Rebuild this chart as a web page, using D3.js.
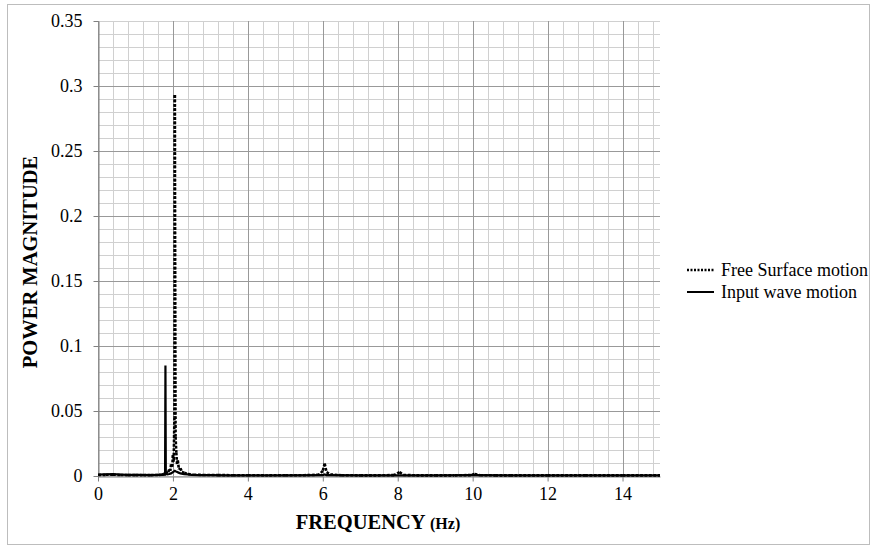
<!DOCTYPE html>
<html>
<head>
<meta charset="utf-8">
<script src="https://cdn.jsdelivr.net/npm/d3@7"></script>
<style>
  html, body { margin: 0; padding: 0; background: #fff; }
  svg { display: block; }
  svg text { font-family: "Liberation Serif", "Times New Roman", serif; }
</style>
</head>
<body>
<svg id="chart" width="875" height="549"></svg>
<script>
// Free surface motion spectrum (frequency in Hz, power magnitude)
const freeFreq = [0, 0.2, 0.4, 0.6, 0.8, 1.0, 1.2, 1.4, 1.6, 1.7, 1.76, 1.81, 1.86, 1.9, 1.93, 1.95, 1.98, 2.0, 2.02, 2.04, 2.05, 2.07, 2.09, 2.11, 2.13, 2.16, 2.2, 2.24, 2.3, 2.4, 2.55, 2.8, 3.2, 3.6, 4.0, 4.5, 5.0, 5.5, 5.9, 6.0, 6.05, 6.1, 6.2, 6.5, 7.0, 7.5, 7.9, 8.05, 8.15, 8.5, 9.0, 9.5, 9.95, 10.05, 10.2, 10.6, 11, 12, 13, 14, 15];
const freePower = [0.0008, 0.0009, 0.0010, 0.0008, 0.0007, 0.0007, 0.0006, 0.0007, 0.0008, 0.0010, 0.0015, 0.0030, 0.0020, 0.0050, 0.0040, 0.0090, 0.0060, 0.0160, 0.0110, 0.0450, 0.2930, 0.0300, 0.0180, 0.0090, 0.0120, 0.0050, 0.0060, 0.0030, 0.0025, 0.0015, 0.0010, 0.0008, 0.0007, 0.0006, 0.0006, 0.0005, 0.0006, 0.0006, 0.0010, 0.0040, 0.0095, 0.0030, 0.0012, 0.0006, 0.0005, 0.0005, 0.0007, 0.0030, 0.0008, 0.0005, 0.0005, 0.0005, 0.0007, 0.0015, 0.0006, 0.0005, 0.0005, 0.0005, 0.0005, 0.0005, 0.0005];

// Input wave motion spectrum
const inputFreq = [0, 0.2, 0.4, 0.6, 0.8, 1.0, 1.2, 1.4, 1.6, 1.7, 1.79, 1.80, 1.81, 1.85, 1.9, 1.95, 2.0, 2.05, 2.1, 2.15, 2.2, 2.3, 2.4, 2.5, 2.7, 3.0, 3.5, 4.0, 5.0, 6.0, 6.05, 6.1, 7.0, 8.0, 9.0, 10.0, 11, 12, 13, 14, 15];
const inputPower = [0.0010, 0.0012, 0.0014, 0.0011, 0.0009, 0.0008, 0.0008, 0.0007, 0.0008, 0.0008, 0.0010, 0.0850, 0.0020, 0.0012, 0.0015, 0.0020, 0.0030, 0.0040, 0.0032, 0.0026, 0.0020, 0.0015, 0.0012, 0.0009, 0.0007, 0.0006, 0.0005, 0.0005, 0.0005, 0.0006, 0.0012, 0.0006, 0.0005, 0.0005, 0.0005, 0.0006, 0.0005, 0.0005, 0.0005, 0.0005, 0.0005];

const xTicks = [0, 2, 4, 6, 8, 10, 12, 14];
const yTicks = [0, 0.05, 0.1, 0.15, 0.2, 0.25, 0.3, 0.35];
const seriesNames = ["Free Surface motion", "Input wave motion"];

const svg = d3.select("#chart");
const plot = { left: 98, right: 660, top: 21, bottom: 476 };
const serif = '"Liberation Serif", "Times New Roman", serif';

// outer chart frame
svg.append("rect")
  .attr("x", 7.5).attr("y", 4.5)
  .attr("width", 862).attr("height", 540)
  .attr("fill", "#fff").attr("stroke", "#bdbdbd").attr("stroke-width", 1);

const x = d3.scaleLinear().domain([0, 15]).range([plot.left, plot.right]);
const y = d3.scaleLinear().domain([0, 0.35]).range([plot.bottom, plot.top]);

// minor grid
const minorX = d3.range(0, 15.0001, 0.4).map(v => +v.toFixed(2));
const minorY = d3.range(0, 0.35001, 0.01).map(v => +v.toFixed(3));
const grid = svg.append("g");
grid.selectAll("line.mx").data(minorX).join("line")
  .attr("x1", d => Math.round(x(d)) + 0.5).attr("x2", d => Math.round(x(d)) + 0.5)
  .attr("y1", plot.top).attr("y2", plot.bottom)
  .attr("stroke", "#d0d0d0").attr("stroke-width", 1);
grid.selectAll("line.my").data(minorY).join("line")
  .attr("x1", plot.left).attr("x2", plot.right)
  .attr("y1", d => Math.round(y(d)) + 0.5).attr("y2", d => Math.round(y(d)) + 0.5)
  .attr("stroke", "#d0d0d0").attr("stroke-width", 1);

// major grid
grid.selectAll("line.Mx").data(xTicks).join("line")
  .attr("x1", d => Math.round(x(d)) + 0.5).attr("x2", d => Math.round(x(d)) + 0.5)
  .attr("y1", plot.top).attr("y2", plot.bottom)
  .attr("stroke", "#999").attr("stroke-width", 1);
grid.selectAll("line.My").data(yTicks.slice(1, -1)).join("line")
  .attr("x1", plot.left).attr("x2", plot.right)
  .attr("y1", d => Math.round(y(d)) + 0.5).attr("y2", d => Math.round(y(d)) + 0.5)
  .attr("stroke", "#999").attr("stroke-width", 1);

// axes
const xAxis = d3.axisBottom(x).tickValues(xTicks).tickSize(5).tickSizeOuter(0).tickFormat(d3.format("d"));
const yAxis = d3.axisLeft(y).tickValues(yTicks).tickSize(5).tickSizeOuter(0).tickFormat(d => d === 0 ? "0" : d3.format("")(d));

const gx = svg.append("g").attr("transform", `translate(0,${plot.bottom + 0.5})`).call(xAxis)
  .attr("font-family", null).attr("font-size", null);
gx.select(".domain").attr("stroke", "#808080");
gx.selectAll(".tick line").attr("stroke", "#808080");
gx.selectAll(".tick text").style("font-size", "18px").style("font-family", serif)
  .attr("fill", "#000").attr("dy", "0.85em");

const gy = svg.append("g").attr("transform", `translate(${plot.left + 0.5},0)`).call(yAxis)
  .attr("font-family", null).attr("font-size", null);
gy.select(".domain").attr("stroke", "#808080");
gy.selectAll(".tick line").attr("stroke", "#808080");
gy.selectAll(".tick text").style("font-size", "18px").style("font-family", serif)
  .attr("fill", "#000").attr("x", -16);

// series
const line = d3.line().x(d => x(d[0])).y(d => y(d[1]));
const inputData = inputFreq.map((f, i) => [f, inputPower[i]]);
const freeData = freeFreq.map((f, i) => [f, freePower[i]]);

svg.append("path").datum(inputData)
  .attr("d", line).attr("fill", "none")
  .attr("stroke", "#000").attr("stroke-width", 2.2).attr("stroke-linejoin", "miter");

// dotted series: each segment drawn from its higher end downward so the
// dot pattern on the rising and falling strokes of a spike lines up
const freeSegs = d3.pairs(freeData).map(([a, b]) => a[1] >= b[1] ? [a, b] : [b, a]);
svg.append("g").selectAll("path").data(freeSegs).join("path")
  .attr("d", line).attr("fill", "none")
  .attr("stroke", "#000").attr("stroke-width", 2.6)
  .attr("stroke-dasharray", "2.8,1.6");

// axis titles
svg.append("text")
  .attr("x", 378).attr("y", 529)
  .attr("text-anchor", "middle")
  .style("font-weight", "bold").style("font-size", "20.5px")
  .text("FREQUENCY ")
  .append("tspan").style("font-size", "16px").text("(Hz)");

svg.append("text")
  .attr("transform", "translate(37,262) rotate(-90)")
  .attr("text-anchor", "middle")
  .style("font-weight", "bold").style("font-size", "20.5px")
  .text("POWER MAGNITUDE");

// legend
const legend = svg.append("g").attr("transform", "translate(687,270)");
seriesNames.forEach((name, i) => {
  const g = legend.append("g").attr("transform", `translate(0,${i * 22})`);
  g.append("line").attr("x1", 0).attr("x2", 27).attr("y1", 0).attr("y2", 0)
    .attr("stroke", "#000").attr("stroke-width", i === 0 ? 2.4 : 2)
    .attr("stroke-dasharray", i === 0 ? "2,1.5" : null);
  g.append("text").attr("x", 34).attr("y", 0).attr("dy", "0.35em")
    .style("font-size", "18px").text(name);
});
</script>
</body>
</html>
